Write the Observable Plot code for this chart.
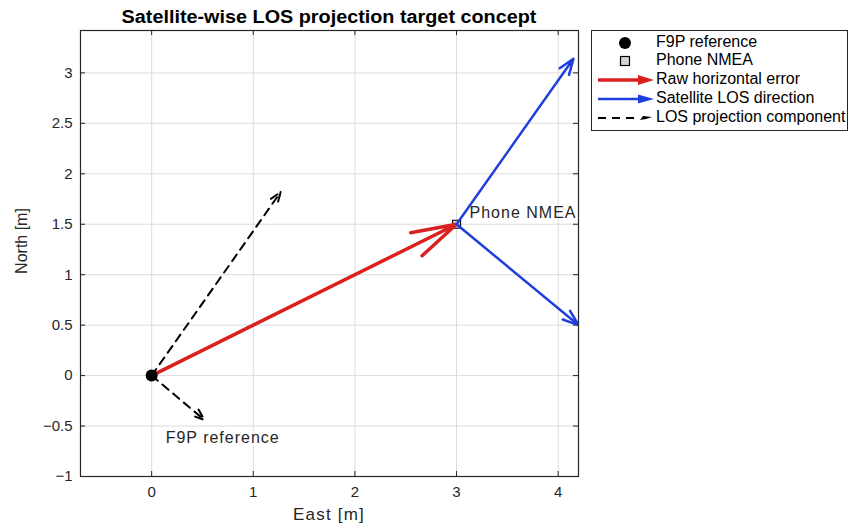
<!DOCTYPE html>
<html>
<head>
<meta charset="utf-8">
<script src="https://cdn.jsdelivr.net/npm/d3@7"></script>
<script src="https://cdn.jsdelivr.net/npm/@observablehq/plot@0.6"></script>
<style>
  body { margin: 0; background: white; }
  #wrap { position: relative; width: 851px; height: 528px; font-family: "Liberation Sans", Arial, sans-serif; color: #262626; }
  #chart { position: absolute; left: 0; top: 0; }
  #title { position: absolute; left: 80px; width: 498px; top: 7px; text-align: center; font-weight: bold; font-size: 18px; color: #000; transform: scaleX(1.1); transform-origin: 50% 50%; white-space: nowrap; }
  #xlabel { position: absolute; left: 229px; width: 200px; top: 505px; text-align: center; font-size: 17px; letter-spacing: 1.2px; color: #262626; }
  #ylabel { position: absolute; left: 22px; top: 241px; width: 0; height: 0; }
  #ylabel span { position: absolute; left: 0; top: 0; transform: translate(-50%, -50%) rotate(-90deg); font-size: 16px; white-space: nowrap; color: #262626; }
  #legend { position: absolute; left: 591px; top: 30px; width: 257px; height: 101px; border: 1px solid #262626; background: white; box-sizing: border-box; }
  .row { position: absolute; left: 0; height: 19px; width: 256px; }
  .row svg { position: absolute; left: 4px; top: 0; }
  .row span { position: absolute; left: 64px; top: 0px; font-size: 16px; color: #000; white-space: nowrap; }
  .ptlabel text { letter-spacing: 1px; }
</style>
</head>
<body>
<div id="wrap">
  <div id="chart"></div>
  <div id="title"></div>
  <div id="xlabel"></div>
  <div id="ylabel"><span></span></div>
  <div id="legend"></div>
</div>
<script>
// ---- data ----
const titleText = "Satellite-wise LOS projection target concept";
const xLabel = "East [m]";
const yLabel = "North [m]";
const xTicks = [0, 1, 2, 3, 4];
const yTicks = [-1, -0.5, 0, 0.5, 1, 1.5, 2, 2.5, 3];
const f9pRef = [{east: 0, north: 0, label: "F9P reference"}];
const phoneNmea = [{east: 3, north: 1.5, label: "Phone NMEA"}];
const rawError = [{x1: 0, y1: 0, x2: 3, y2: 1.5}];
const losDirection = [
  {x1: 3, y1: 1.5, x2: 4.15, y2: 3.14},
  {x1: 3, y1: 1.5, x2: 4.2, y2: 0.5}
];
const losProjection = [
  {x1: 0, y1: 0, x2: 1.27, y2: 1.82},
  {x1: 0, y1: 0, x2: 0.52, y2: -0.44}
];
const legendItems = ["F9P reference", "Phone NMEA", "Raw horizontal error", "Satellite LOS direction", "LOS projection component"];

const RED = "#d92121";
const BLUE = "#1f3fdc";
const AX = "#262626";
const fmt = d => d < 0 ? "\u2212" + Math.abs(d) : String(d);

const H = 528, mt = 30, mb = 52;
const fh = H - mt - mb;
const fw = 851 - 80 - 273;

const chart = Plot.plot({
  width: 851, height: H,
  marginLeft: 80, marginRight: 273, marginTop: mt, marginBottom: mb,
  style: {fontFamily: "'Liberation Sans', Arial, sans-serif", fontSize: "14px", color: AX, background: "white"},
  x: {domain: [-0.7, 4.2]},
  y: {domain: [-1, 3.42]},
  marks: [
    Plot.gridX(xTicks, {stroke: "#dcdcdc", strokeOpacity: 1, strokeWidth: 1}),
    Plot.gridY(yTicks, {stroke: "#dcdcdc", strokeOpacity: 1, strokeWidth: 1}),
    Plot.axisX(xTicks, {tickSize: 0, tickPadding: 10, tickFormat: fmt, label: null, fontSize: 15, fill: AX}),
    Plot.axisY(yTicks, {tickSize: 0, tickPadding: 8, tickFormat: fmt, label: null, fontSize: 15, fill: AX}),
    // inward ticks
    Plot.tickX(xTicks, {x: d => d, insetTop: fh - 5, stroke: AX}),
    Plot.tickX(xTicks, {x: d => d, insetBottom: fh - 5, stroke: AX}),
    Plot.tickY(yTicks, {y: d => d, insetRight: fw - 5, stroke: AX}),
    Plot.tickY(yTicks, {y: d => d, insetLeft: fw - 5, stroke: AX}),
    // phone marker
    Plot.dot(phoneNmea, {x: "east", y: "north", symbol: "square", r: 4.5, fill: "#d4d4d4", stroke: "#000", strokeWidth: 1.2}),
    // LOS projection dashed
    Plot.arrow(losProjection, {x1: "x1", y1: "y1", x2: "x2", y2: "y2", stroke: "#000", strokeWidth: 2, strokeDasharray: "8,6", headLength: 9, headAngle: 40}),
    // raw error
    Plot.arrow(rawError, {x1: "x1", y1: "y1", x2: "x2", y2: "y2", stroke: RED, strokeWidth: 3.5, headLength: 20, headAngle: 32}),
    // LOS direction
    Plot.arrow(losDirection, {x1: "x1", y1: "y1", x2: "x2", y2: "y2", stroke: BLUE, strokeWidth: 2.5, headLength: 10, headAngle: 40, clip: true}),
    // F9P marker
    Plot.dot(f9pRef, {x: "east", y: "north", r: 6, fill: "#000"}),
    // labels
    Plot.text(phoneNmea, {x: "east", y: "north", text: "label", textAnchor: "start", dx: 13, dy: -11, fontSize: 16, fill: AX, className: "ptlabel"}),
    Plot.text(f9pRef, {x: "east", y: "north", text: "label", textAnchor: "start", dx: 14, dy: 62, fontSize: 16, fill: AX, stroke: "white", strokeWidth: 6, paintOrder: "stroke", className: "ptlabel"}),
    Plot.frame({stroke: AX, strokeWidth: 1.2})
  ]
});
document.getElementById("chart").appendChild(chart);
document.getElementById("title").textContent = titleText;
document.getElementById("xlabel").textContent = xLabel;
document.querySelector("#ylabel span").textContent = yLabel;

// ---- legend ----
const legend = document.getElementById("legend");
const symbols = [
  `<svg width="62" height="19"><circle cx="29" cy="10" r="6" fill="#000"/></svg>`,
  `<svg width="62" height="19"><rect x="24.5" y="5.5" width="9" height="9" fill="#d4d4d4" stroke="#000" stroke-width="1.2"/></svg>`,
  `<svg width="62" height="19"><line x1="2" y1="10" x2="46" y2="10" stroke="${RED}" stroke-width="3.5"/><path d="M58,10 L42,5 L42,15 Z" fill="${RED}"/></svg>`,
  `<svg width="62" height="19"><line x1="2" y1="10" x2="46" y2="10" stroke="${BLUE}" stroke-width="2.5"/><path d="M58,10 L42,5.5 L42,14.5 Z" fill="${BLUE}"/></svg>`,
  `<svg width="62" height="19"><line x1="2" y1="10" x2="44" y2="10" stroke="#000" stroke-width="2" stroke-dasharray="8,6"/><path d="M56,9 L47,8 L44,12 L50,11 Z" fill="#000"/></svg>`
];
const rowTops = [2, 20, 38.5, 57.5, 76.5];
legendItems.forEach((t, i) => {
  const r = document.createElement("div");
  r.className = "row";
  r.style.top = rowTops[i] + "px";
  r.innerHTML = symbols[i] + `<span>${t}</span>`;
  legend.appendChild(r);
});
</script>
</body>
</html>
